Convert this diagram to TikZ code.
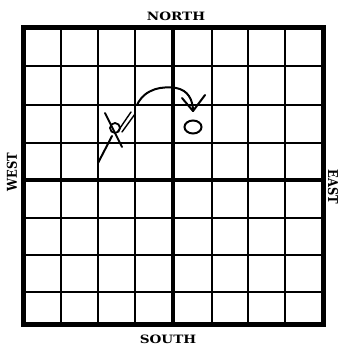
\documentclass[tikz,border=0pt]{standalone}
\usepackage{fontspec}
\newfontfamily\labelfont{DejaVu Serif}
\usetikzlibrary{calc,shapes.geometric}
\begin{document}
\begin{tikzpicture}[x=1pt,y=-1pt,
  inner/.style={line width=2pt},
  axis/.style={line width=4pt},
  outer/.style={line width=5pt},
  pen/.style={line width=2pt,line cap=round,line join=round},
  lbl/.style={font=\labelfont\fontsize{11.5}{13}\selectfont\bfseries,inner sep=0pt,xscale=1.18}]
\useasboundingbox (0,0) rectangle (340,347);
% inner grid lines
\foreach \x in {61,98,135,212,248,285} \draw[inner] (\x,28) -- (\x,324);
\foreach \y in {66,105,143,218,255,292} \draw[inner] (23,\y) -- (323,\y);
% axes
\draw[axis] (173,28) -- (173,324);
\draw[axis] (23,180) -- (323,180);
% border
\draw[outer] (23,28) rectangle (323,324);
% labels
\node[lbl] (north) at (176,16) {NORTH};
\node[lbl] (south) at (168,339.5) {SOUTH};
\node[lbl,rotate=90] (west) at (12,172) {WEST};
\node[lbl,rotate=-90] (east) at (333,187) {EAST};
% marks
\coordinate (xa) at (105,113);
\coordinate (xb) at (122,147);
\coordinate (xc) at (98,163);
\coordinate (xd) at (112,136);
\draw[pen] (xa) -- (xb);
\draw[pen] (xc) -- (xd);
\node[draw,circle,line width=1.8pt,minimum size=10pt,inner sep=0pt] (player) at (115,128) {};
\draw[pen,line width=1.4pt] (118,131) -- (131,112);
\draw[pen,line width=1.4pt] (122,132) -- (135,114);
\coordinate (start) at (137,105);
\coordinate (tip) at (193,111);
\draw[pen] (start) .. controls (145,88) and (163,86) .. (176,88)
  .. controls (188,90) and (193,100) .. (tip);
\draw[pen] (182,98) -- (tip) -- (205,95);
\node[draw,ellipse,line width=2pt,minimum width=17pt,minimum height=13pt,inner sep=0pt] (target) at (193,127) {};
\end{tikzpicture}
\end{document}
